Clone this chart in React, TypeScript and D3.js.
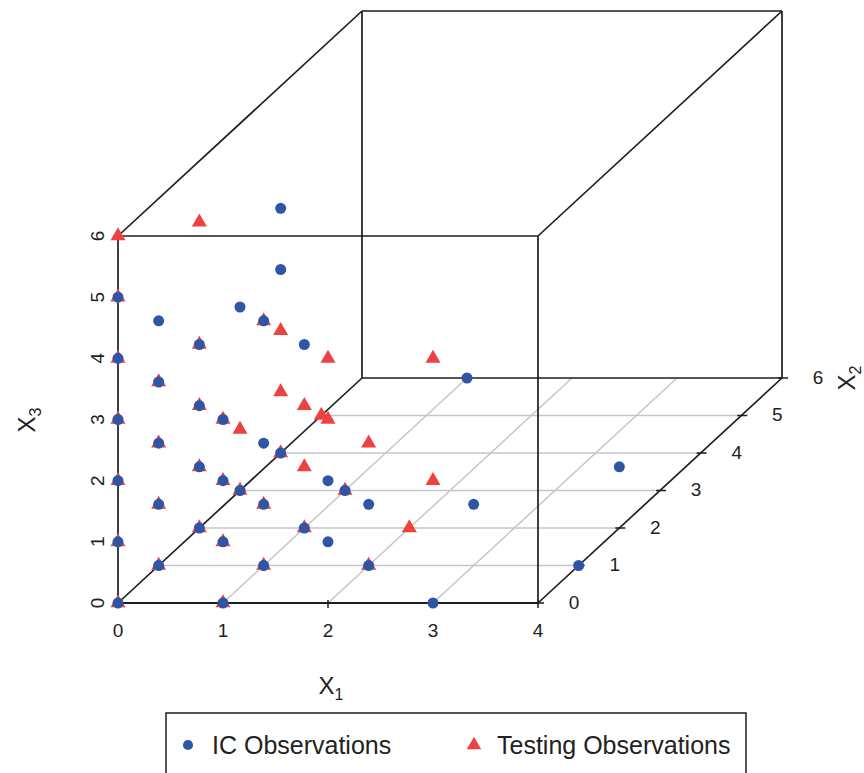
import React from "react";
import * as d3 from "d3";

// Observations as [X1, X2, X3]
const icObservations: [number, number, number][] = [
  [0, 0, 0], [0, 0, 1], [0, 0, 2], [0, 0, 3], [0, 0, 4], [0, 0, 5],
  [0, 1, 0], [0, 1, 1], [0, 1, 2], [0, 1, 3], [0, 1, 4],
  [0, 2, 0], [0, 2, 1], [0, 2, 2], [0, 2, 3],
  [0, 3, 0], [0, 3, 3],
  [0, 4, 0], [0, 4, 3], [0, 4, 4],
  [1, 0, 0], [1, 0, 1], [1, 0, 2], [1, 0, 3],
  [1, 1, 0], [1, 1, 1], [1, 1, 2], [1, 1, 4],
  [1, 2, 0], [1, 2, 3],
  [1, 3, 0],
  [1, 6, 0],
  [2, 0, 1], [2, 0, 2],
  [2, 1, 0], [2, 1, 1],
  [3, 0, 0],
  [3, 1, 1],
  [4, 1, 0], [4, 2, 1],
];

const testingObservations: [number, number, number][] = [
  [0, 0, 0], [0, 0, 1], [0, 0, 2], [0, 0, 3], [0, 0, 4], [0, 0, 5], [0, 0, 6],
  [0, 1, 0], [0, 1, 1], [0, 1, 2], [0, 1, 3],
  [0, 2, 0], [0, 2, 1], [0, 2, 2], [0, 2, 3], [0, 2, 5],
  [0, 3, 0], [0, 3, 1],
  [0, 4, 0], [0, 4, 1], [0, 4, 2],
  [0, 5, 0],
  [1, 0, 0], [1, 0, 1], [1, 0, 2], [1, 0, 3],
  [1, 1, 0], [1, 1, 1], [1, 1, 4],
  [1, 2, 0], [1, 2, 1], [1, 2, 2],
  [1, 3, 0],
  [2, 0, 3], [2, 0, 4],
  [2, 1, 0], [2, 1, 2],
  [2, 2, 0],
  [3, 0, 2], [3, 0, 4],
];

const x1Ticks = [0, 1, 2, 3, 4];
const x2Ticks = [0, 1, 2, 3, 4, 5, 6];
const x3Ticks = [0, 1, 2, 3, 4, 5, 6];
const legendLabels = ["IC Observations", "Testing Observations"];

const BLUE = "#2f55a5";
const RED = "#ee4242";
const FONT = "'Liberation Sans', Arial, Helvetica, sans-serif";

// Oblique projection: X1 runs across, X3 runs up, X2 recedes to the upper right
const sx = d3.scaleLinear().domain([0, 4]).range([118, 538]);
const sz = d3.scaleLinear().domain([0, 6]).range([603, 236]);
const depthX = d3.scaleLinear().domain([0, 6]).range([0, 244]);
const depthY = d3.scaleLinear().domain([0, 6]).range([0, -225]);

const px = (a: number, b: number) => sx(a) + depthX(b);
const py = (b: number, c: number) => sz(c) + depthY(b);

const circlePath = d3.symbol(d3.symbolCircle, 95)()!;
const trianglePath = d3.symbol(d3.symbolTriangle, 98)()!;

function Edge({ a, b }: { a: [number, number, number]; b: [number, number, number] }) {
  return (
    <line
      x1={px(a[0], a[1])}
      y1={py(a[1], a[2])}
      x2={px(b[0], b[1])}
      y2={py(b[1], b[2])}
      stroke="#1e1e1e"
      strokeWidth={1.7}
    />
  );
}

export default function App() {
  const [x1Min, x1Max] = sx.domain();
  const [x2Min, x2Max] = depthX.domain();
  const [x3Min, x3Max] = sz.domain();

  const corners = {
    f00: [x1Min, x2Min, x3Min], f10: [x1Max, x2Min, x3Min],
    f01: [x1Min, x2Min, x3Max], f11: [x1Max, x2Min, x3Max],
    b00: [x1Min, x2Max, x3Min], b10: [x1Max, x2Max, x3Min],
    b01: [x1Min, x2Max, x3Max], b11: [x1Max, x2Max, x3Max],
  } as Record<string, [number, number, number]>;

  const edges: [string, string][] = [
    ["f00", "f10"], ["f10", "f11"], ["f11", "f01"], ["f01", "f00"],
    ["b00", "b10"], ["b10", "b11"], ["b11", "b01"], ["b01", "b00"],
    ["f00", "b00"], ["f10", "b10"], ["f01", "b01"], ["f11", "b11"],
  ];

  return (
    <svg
      width={864}
      height={773}
      style={{ position: "absolute", left: 0, top: 0, background: "#fff" }}
      fontFamily={FONT}
    >
      {/* floor grid */}
      <g stroke="#c6c6c6" strokeWidth={1.5}>
        {x2Ticks.filter((t) => t > x2Min && t < x2Max).map((t) => (
          <line key={"h" + t} x1={px(x1Min, t)} y1={py(t, 0)} x2={px(x1Max, t)} y2={py(t, 0)} />
        ))}
        {x1Ticks.filter((t) => t > x1Min && t < x1Max).map((t) => (
          <line key={"d" + t} x1={px(t, x2Min)} y1={py(x2Min, 0)} x2={px(t, x2Max)} y2={py(x2Max, 0)} />
        ))}
      </g>

      {/* box */}
      {edges.map(([a, b]) => (
        <Edge key={a + b} a={corners[a]} b={corners[b]} />
      ))}
      <line x1={sx(x1Min)} y1={sz(0)} x2={sx(x1Max)} y2={sz(0)} stroke="#1e1e1e" strokeWidth={2.2} />

      {/* X1 axis */}
      <g stroke="#1e1e1e" strokeWidth={1.5}>
        {x1Ticks.map((t) => (
          <line key={t} x1={sx(t)} x2={sx(t)} y1={sz(0) - 3} y2={sz(0) + 5} />
        ))}
      </g>
      <g fontSize={19} fill="#222" textAnchor="middle">
        {x1Ticks.map((t) => (
          <text key={t} x={sx(t)} y={630} dy="0.36em">{t}</text>
        ))}
      </g>
      <text x={331} y={694} fontSize={24} textAnchor="middle" fill="#222">
        X<tspan fontSize={16} dy={6}>1</tspan>
      </text>

      {/* X2 axis */}
      <g stroke="#1e1e1e" strokeWidth={1.5}>
        {x2Ticks.map((t) => (
          <line key={t} x1={px(x1Max, t) - 4} x2={px(x1Max, t) + 6} y1={py(t, 0)} y2={py(t, 0)} />
        ))}
      </g>
      <g fontSize={19} fill="#222" textAnchor="middle">
        {x2Ticks.map((t) => (
          <text key={t} x={px(x1Max, t) + 36} y={py(t, 0) - 1} dy="0.36em">{t}</text>
        ))}
      </g>
      <text transform="translate(855,378) rotate(-90)" fontSize={24} textAnchor="middle" fill="#222">
        X<tspan fontSize={16} dy={6}>2</tspan>
      </text>

      {/* X3 axis */}
      <g stroke="#1e1e1e" strokeWidth={1.5}>
        {x3Ticks.map((t) => (
          <line key={t} x1={sx(0) - 5} x2={sx(0)} y1={sz(t)} y2={sz(t)} />
        ))}
      </g>
      <g fontSize={19} fill="#222" textAnchor="middle">
        {x3Ticks.map((t) => (
          <text key={t} transform={`translate(97,${sz(t)}) rotate(-90)`} dy="0.36em">{t}</text>
        ))}
      </g>
      <text transform="translate(35,420) rotate(-90)" fontSize={24} textAnchor="middle" fill="#222">
        X<tspan fontSize={16} dy={6}>3</tspan>
      </text>

      {/* observations */}
      <g fill={RED}>
        {testingObservations.map(([a, b, c], i) => (
          <path key={i} d={trianglePath} transform={`translate(${px(a, b)},${py(b, c)})`} />
        ))}
      </g>
      <g fill={BLUE}>
        {icObservations.map(([a, b, c], i) => (
          <path key={i} d={circlePath} transform={`translate(${px(a, b)},${py(b, c)})`} />
        ))}
      </g>

      {/* legend */}
      <rect x={166} y={713} width={580} height={80} fill="#fff" stroke="#1e1e1e" strokeWidth={1.5} />
      <path d={d3.symbol(d3.symbolCircle, 80)()!} transform="translate(188,745)" fill={BLUE} />
      <text x={212} y={745} dy="0.36em" fontSize={25} fill="#222">{legendLabels[0]}</text>
      <path d={d3.symbol(d3.symbolTriangle, 90)()!} transform="translate(474,745)" fill={RED} />
      <text x={497} y={745} dy="0.36em" fontSize={25} fill="#222">{legendLabels[1]}</text>
    </svg>
  );
}
